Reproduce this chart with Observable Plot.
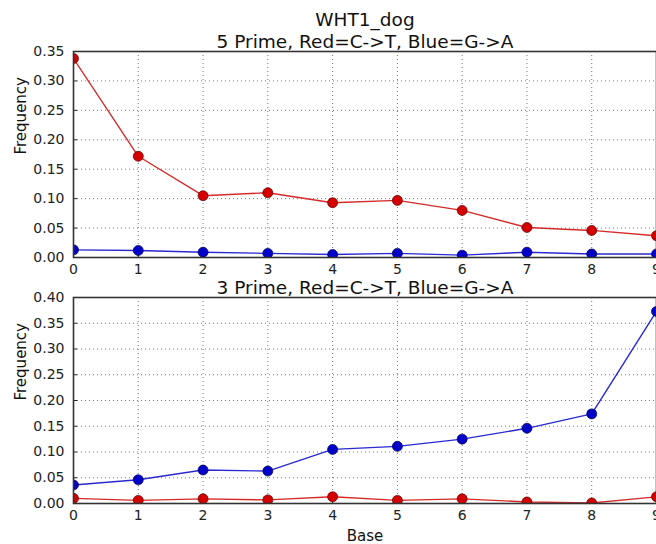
<!DOCTYPE html>
<html><head><meta charset="utf-8">
<script src="https://cdn.jsdelivr.net/npm/d3@7"></script>
<script src="https://cdn.jsdelivr.net/npm/@observablehq/plot@0.6"></script>
<style>
html,body{margin:0;padding:0;background:#fff;overflow:hidden;width:656px;height:544px}
#chart{position:relative;width:656px;height:544px;font-family:"DejaVu Sans",sans-serif}
#chart svg{position:absolute;left:0}
</style></head><body><div id="chart"></div>
<script>
const bases = [0, 1, 2, 3, 4, 5, 6, 7, 8, 9];
const titleText = "WHT1_dog";
const subtitle5 = "5 Prime, Red=C->T, Blue=G->A";
const subtitle3 = "3 Prime, Red=C->T, Blue=G->A";
const yLabel = "Frequency";
const xLabel = "Base";
const fivePrimeCT = [0.338, 0.172, 0.105, 0.110, 0.093, 0.097, 0.080, 0.051, 0.046, 0.037];
const fivePrimeGA = [0.013, 0.012, 0.009, 0.007, 0.005, 0.007, 0.004, 0.009, 0.006, 0.006];
const threePrimeCT = [0.010, 0.006, 0.009, 0.007, 0.013, 0.006, 0.009, 0.003, 0.001, 0.013];
const threePrimeGA = [0.036, 0.046, 0.065, 0.063, 0.105, 0.111, 0.125, 0.146, 0.174, 0.373];
const yTicks5 = [0, 0.05, 0.10, 0.15, 0.20, 0.25, 0.30, 0.35];
const yTicks3 = [0, 0.05, 0.10, 0.15, 0.20, 0.25, 0.30, 0.35, 0.40];
const xTicks = [0, 1, 2, 3, 4, 5, 6, 7, 8, 9];

const RED_LINE = "#d42a2a", RED_FILL = "#d40000", RED_EDGE = "#5a0000";
const BLUE_LINE = "#2a2ad0", BLUE_FILL = "#0000c8", BLUE_EDGE = "#000050";

function rows(vals) { return bases.map((b, i) => ({base: b, freq: vals[i]})); }

function panel({height, marginTop, marginBottom, yTicks, series, titles, showXLabel}) {
  const marks = [
    Plot.gridX(xTicks, {stroke: "#666", strokeOpacity: 1, strokeWidth: 0.9, strokeDasharray: "1,3"}),
    Plot.gridY(yTicks, {stroke: "#666", strokeOpacity: 1, strokeWidth: 0.9, strokeDasharray: "1,3"}),
    Plot.axisX({ticks: xTicks, tickSize: -4, tickPadding: 11, fontSize: 14, tickFormat: d3.format("d"), label: null, stroke: "#222"}),
    Plot.axisY({ticks: yTicks, tickSize: -4, tickPadding: 13, fontSize: 14, tickFormat: d3.format(".2f"), label: null, stroke: "#222"}),
    Plot.text([yLabel], {text: d => d, frameAnchor: "left", rotate: -90, lineAnchor: "top", dx: -58, fontSize: 15, fill: "#111"})
  ];
  if (showXLabel) {
    marks.push(Plot.text([xLabel], {text: d => d, frameAnchor: "bottom", lineAnchor: "bottom", dy: 37, fontSize: 15, fill: "#111"}));
  }
  for (const s of series) {
    marks.push(Plot.line(rows(s.values), {x: "base", y: "freq", stroke: s.line, strokeWidth: 1.4, clip: true}));
    marks.push(Plot.dot(rows(s.values), {x: "base", y: "freq", r: 5, fill: s.fill, stroke: s.edge, strokeWidth: 0.7, clip: true}));
  }
  marks.push(Plot.frame({stroke: "#333", strokeWidth: 1.6}));
  for (const t of titles) {
    marks.push(Plot.text([t.text], {text: d => d, frameAnchor: "top", lineAnchor: "bottom", dy: t.dy, fontSize: 18.5, fill: "#111"}));
  }
  return Plot.plot({
    width: 656, height, marginTop, marginBottom, marginLeft: 73, marginRight: 0,
    style: {fontFamily: "DejaVu Sans, sans-serif", fontSize: "14px", background: "transparent", overflow: "visible", color: "#222"},
    x: {domain: [0, 9]},
    y: {domain: [0, yTicks[yTicks.length - 1]]},
    marks
  });
}

const chart = document.getElementById("chart");
const top5 = panel({
  height: 290, marginTop: 51, marginBottom: 33, yTicks: yTicks5,
  series: [
    {values: fivePrimeGA, line: BLUE_LINE, fill: BLUE_FILL, edge: BLUE_EDGE},
    {values: fivePrimeCT, line: RED_LINE, fill: RED_FILL, edge: RED_EDGE}
  ],
  titles: [{text: titleText, dy: -26}, {text: subtitle5, dy: -4}],
  showXLabel: false
});
top5.style.top = "0px";
const bot3 = panel({
  height: 274, marginTop: 27, marginBottom: 41, yTicks: yTicks3,
  series: [
    {values: threePrimeCT, line: RED_LINE, fill: RED_FILL, edge: RED_EDGE},
    {values: threePrimeGA, line: BLUE_LINE, fill: BLUE_FILL, edge: BLUE_EDGE}
  ],
  titles: [{text: subtitle3, dy: -4}],
  showXLabel: true
});
bot3.style.top = "270px";
chart.appendChild(top5);
chart.appendChild(bot3);
</script></body></html>
